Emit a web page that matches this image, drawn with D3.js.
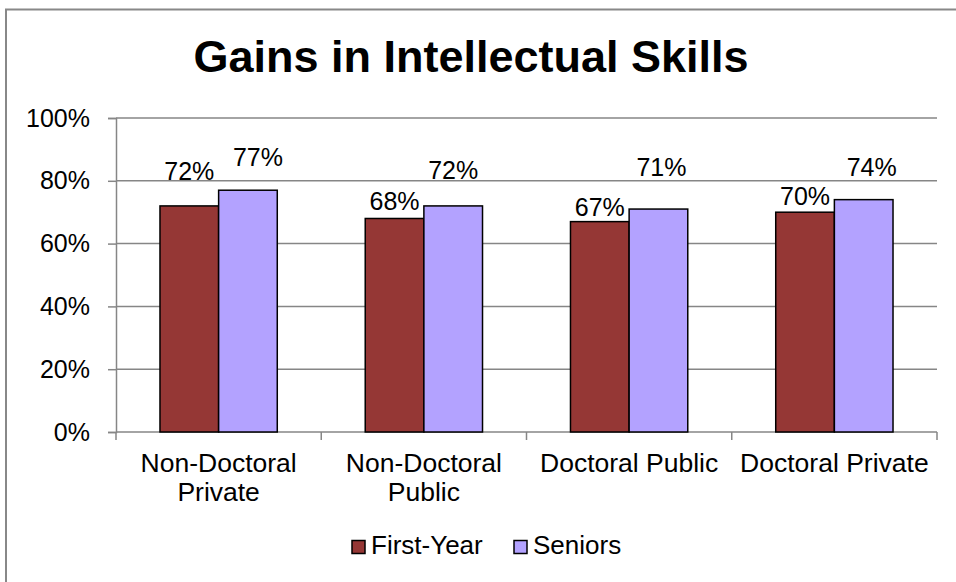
<!DOCTYPE html>
<html>
<head>
<meta charset="utf-8">
<script src="https://cdn.jsdelivr.net/npm/d3@7"></script>
<style>
  html, body { margin: 0; padding: 0; background: #fff; }
  svg { display: block; font-family: "Liberation Sans", Arial, sans-serif; }
</style>
</head>
<body>
<svg id="chart" width="956" height="582"></svg>
<script>
// ---- data ----
const categories = [["Non-Doctoral", "Private"], ["Non-Doctoral", "Public"], ["Doctoral Public"], ["Doctoral Private"]];
const seriesNames = ["First-Year", "Seniors"];
const firstYear = [72, 68, 67, 70];
const seniors = [77, 72, 71, 74];
const yTicks = [0, 20, 40, 60, 80, 100];

// ---- layout / style (not data) ----
const colors = ["#953735", "#B3A2FF"];
// manual label nudges (px) relative to default placement above bar: [dx, dy]
const labelNudgeFirst = [[0, -20], [0, -2], [0, 0], [0, -1]];
const labelNudgeSeniors = [[10, -18], [0, -21], [3, -27], [8, -18]];

const svg = d3.select("#chart");
const plot = { left: 116, right: 937, top: 118, bottom: 432 };

// outer chart border
svg.append("rect")
  .attr("x", 6).attr("y", 9.5).attr("width", 1000).attr("height", 1000)
  .attr("fill", "#fff").attr("stroke", "#888").attr("stroke-width", 2);

// title
svg.append("text")
  .attr("x", 471).attr("y", 72)
  .attr("text-anchor", "middle")
  .attr("font-weight", "bold").attr("font-size", 45)
  .attr("fill", "#000")
  .text("Gains in Intellectual Skills");

const x0 = d3.scaleBand().domain(d3.range(categories.length)).range([plot.left, plot.right]).paddingInner(0).paddingOuter(0);
const barW = x0.bandwidth() / 3.5;
const x1 = d3.scaleBand().domain([0, 1]).range([0, 2 * barW]);
const y = d3.scaleLinear().domain([0, 100]).range([plot.bottom, plot.top]);

// gridlines
svg.append("g").selectAll("line").data(yTicks.slice(1)).join("line")
  .attr("x1", plot.left).attr("x2", plot.right)
  .attr("y1", d => y(d)).attr("y2", d => y(d))
  .attr("stroke", "#868686").attr("stroke-width", 1.5);

// y axis
const yAxis = d3.axisLeft(y).tickValues(yTicks).tickFormat(d => d + "%").tickSize(8).tickPadding(18);
const gy = svg.append("g").attr("transform", `translate(${plot.left},0)`).call(yAxis);
gy.select(".domain").attr("stroke", "#868686").attr("stroke-width", 1.5);
gy.selectAll(".tick line").attr("stroke", "#868686").attr("stroke-width", 1.5);
gy.selectAll(".tick text").attr("font-size", 25).attr("fill", "#000")
  .attr("font-family", "Liberation Sans, Arial, sans-serif");

// x axis line + ticks at category boundaries
const boundaries = d3.range(categories.length + 1).map(i => plot.left + i * x0.step());
svg.append("line").attr("x1", plot.left).attr("x2", plot.right)
  .attr("y1", plot.bottom).attr("y2", plot.bottom)
  .attr("stroke", "#868686").attr("stroke-width", 1.5);
svg.append("g").selectAll("line").data(boundaries).join("line")
  .attr("x1", d => d).attr("x2", d => d)
  .attr("y1", plot.bottom).attr("y2", plot.bottom + 8)
  .attr("stroke", "#868686").attr("stroke-width", 1.5);

// category labels
const catG = svg.append("g").selectAll("text").data(categories).join("text")
  .attr("x", (d, i) => x0(i) + x0.bandwidth() / 2)
  .attr("y", 472)
  .attr("text-anchor", "middle").attr("font-size", 26.5).attr("fill", "#000");
catG.selectAll("tspan").data(d => d).join("tspan")
  .attr("x", function () { return d3.select(this.parentNode).attr("x"); })
  .attr("dy", (d, i) => i === 0 ? 0 : 29)
  .text(d => d);

// bars
const series = [firstYear, seniors];
const nudges = [labelNudgeFirst, labelNudgeSeniors];
series.forEach((vals, s) => {
  const g = svg.append("g");
  g.selectAll("rect").data(vals).join("rect")
    .attr("x", (d, i) => x0(i) + (x0.bandwidth() - 2 * barW) / 2 + x1(s))
    .attr("y", d => y(d))
    .attr("width", barW)
    .attr("height", d => plot.bottom - y(d))
    .attr("fill", colors[s]).attr("stroke", "#000").attr("stroke-width", 1.5);
  g.selectAll("text").data(vals).join("text")
    .attr("x", (d, i) => x0(i) + (x0.bandwidth() - 2 * barW) / 2 + x1(s) + barW / 2 + nudges[s][i][0])
    .attr("y", (d, i) => y(d) - 6 + nudges[s][i][1])
    .attr("text-anchor", "middle").attr("font-size", 25).attr("fill", "#000")
    .text(d => d + "%");
});

// legend
const legend = svg.append("g");
const legendItems = [{ x: 352, name: seriesNames[0], c: colors[0] }, { x: 514, name: seriesNames[1], c: colors[1] }];
legendItems.forEach(it => {
  legend.append("rect").attr("x", it.x).attr("y", 540.5).attr("width", 13).attr("height", 13)
    .attr("fill", it.c).attr("stroke", "#000").attr("stroke-width", 1.5);
  legend.append("text").attr("x", it.x + 19).attr("y", 553.5)
    .attr("font-size", 26).attr("fill", "#000").text(it.name);
});
</script>
</body>
</html>
